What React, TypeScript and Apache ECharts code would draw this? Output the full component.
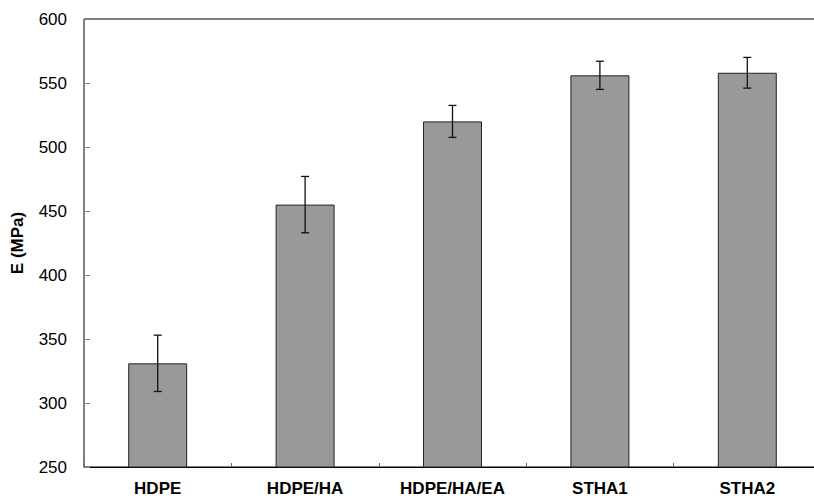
import React, { useEffect, useRef } from "react";
import * as echarts from "echarts";

const categories = ["HDPE", "HDPE/HA", "HDPE/HA/EA", "STHA1", "STHA2"];
const modulus = [331, 455, 520, 556, 558];
const errors = [22, 22, 12.5, 11, 12];
const yTicks = { min: 250, max: 600, interval: 50 };

export default function App() {
  const ref = useRef<HTMLDivElement>(null);
  useEffect(() => {
    if (!ref.current) return;
    const chart = echarts.init(ref.current, undefined, { renderer: "svg" });
    const errData = categories.map((_, i) => [i, modulus[i] - errors[i], modulus[i] + errors[i]]);
    chart.setOption({
      animation: false,
      backgroundColor: "#ffffff",
      grid: {
        left: 84,
        top: 19,
        bottom: 33,
        right: 9,
        show: true,
        borderColor: "#000000",
        borderWidth: 1,
        backgroundColor: "transparent",
      },
      xAxis: {
        type: "category",
        data: categories,
        boundaryGap: true,
        axisLine: { lineStyle: { color: "#000000", width: 1 } },
        axisTick: { show: true, inside: true, length: 4, alignWithLabel: false, lineStyle: { color: "#666666" } },
        axisLabel: {
          margin: 13,
          fontFamily: "Liberation Sans, Arial, sans-serif",
          fontSize: 17,
          fontWeight: "bold",
          color: "#000000",
        },
        splitLine: { show: false },
      },
      yAxis: {
        type: "value",
        min: yTicks.min,
        max: yTicks.max,
        interval: yTicks.interval,
        name: "E (MPa)",
        nameLocation: "middle",
        nameGap: 58,
        nameTextStyle: {
          fontFamily: "Liberation Sans, Arial, sans-serif",
          fontSize: 17,
          fontWeight: "bold",
          color: "#000000",
        },
        axisLine: { show: true, lineStyle: { color: "#808080", width: 1 } },
        axisTick: { show: true, inside: true, length: 6, lineStyle: { color: "#808080" } },
        axisLabel: {
          margin: 17,
          fontFamily: "Liberation Sans, Arial, sans-serif",
          fontSize: 17,
          color: "#000000",
        },
        splitLine: { show: false },
      },
      series: [
        {
          type: "bar",
          data: modulus,
          barCategoryGap: "60%",
          itemStyle: { color: "#999999", borderColor: "#222222", borderWidth: 1 },
        },
        {
          type: "custom",
          data: errData,
          z: 10,
          renderItem: (params: any, api: any) => {
            const x = api.value(0);
            const lo = api.coord([x, api.value(1)]);
            const hi = api.coord([x, api.value(2)]);
            const hw = 4;
            const style = { stroke: "#111111", lineWidth: 1.3 };
            return {
              type: "group",
              children: [
                { type: "line", shape: { x1: lo[0], y1: lo[1], x2: hi[0], y2: hi[1] }, style },
                { type: "line", shape: { x1: lo[0] - hw, y1: lo[1], x2: lo[0] + hw, y2: lo[1] }, style },
                { type: "line", shape: { x1: hi[0] - hw, y1: hi[1], x2: hi[0] + hw, y2: hi[1] }, style },
              ],
            };
          },
        },
      ],
    });
    return () => chart.dispose();
  }, []);
  return (
    <div style={{ position: "fixed", left: 0, top: 0, width: 814, height: 500, overflow: "hidden", background: "#fff" }}>
      <div ref={ref} style={{ width: 830, height: 500 }} />
    </div>
  );
}
